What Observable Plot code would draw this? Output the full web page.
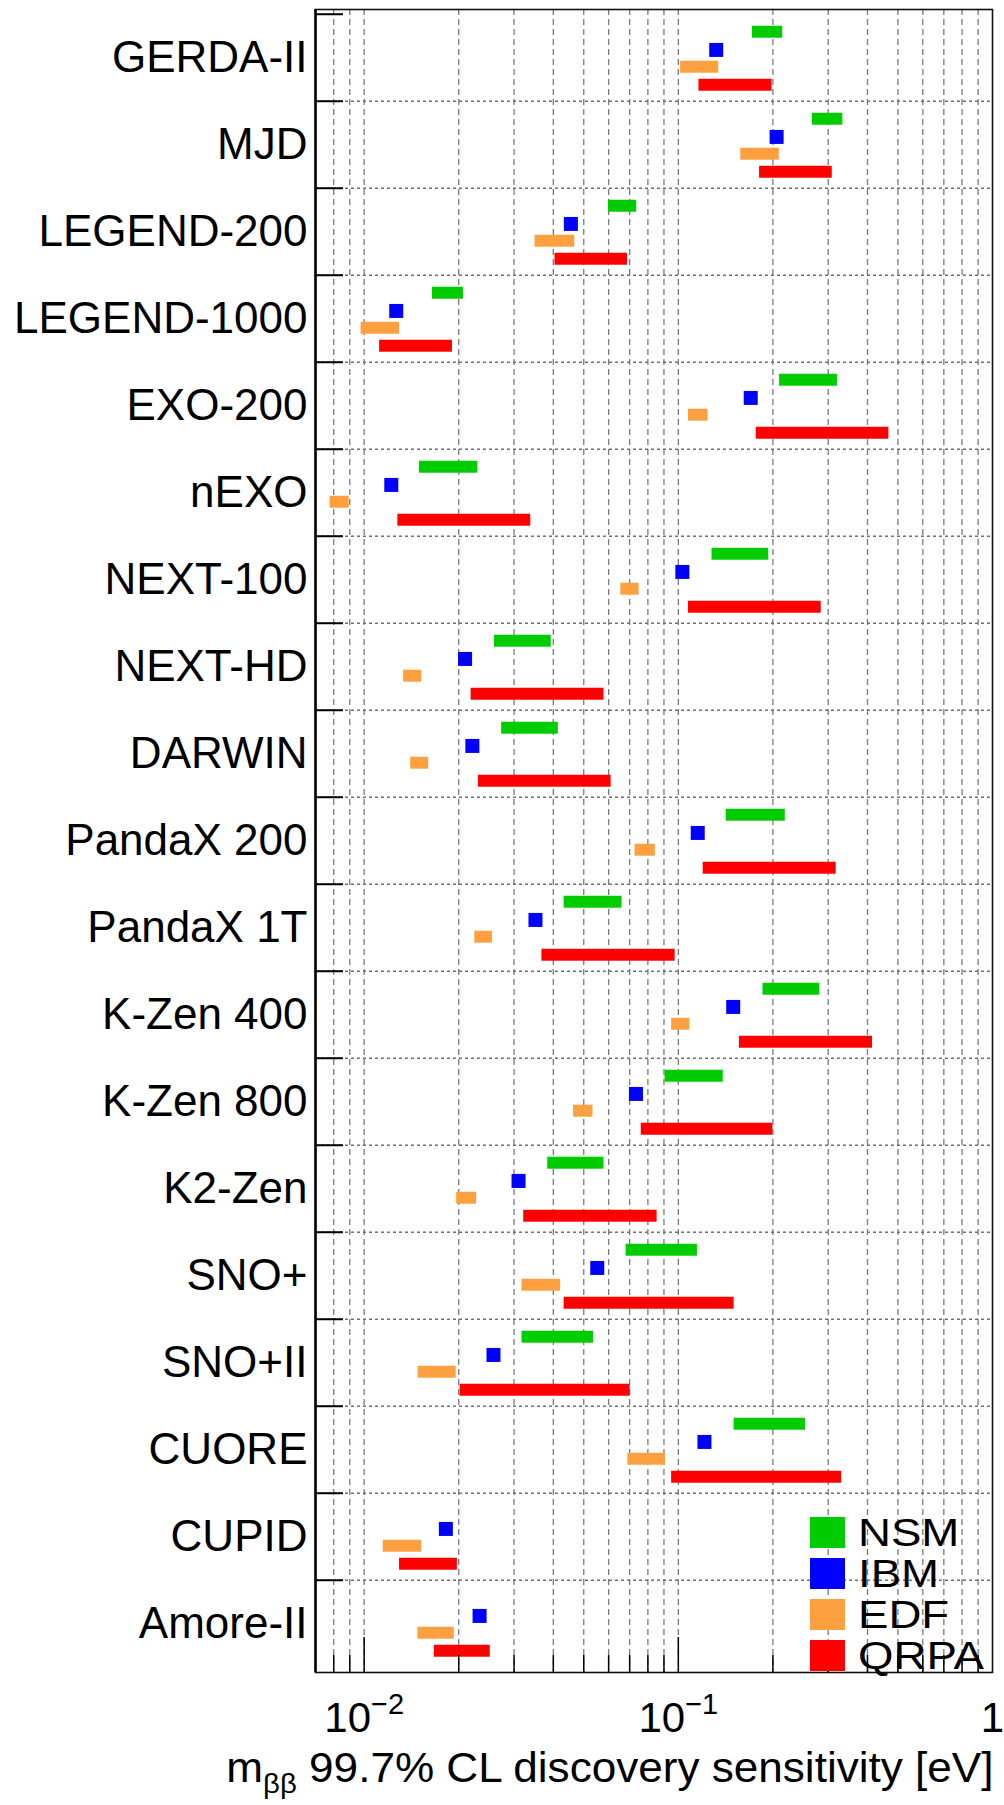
<!DOCTYPE html>
<html><head><meta charset="utf-8">
<script src="https://cdn.jsdelivr.net/npm/d3@7"></script>
<script src="https://cdn.jsdelivr.net/npm/@observablehq/plot@0.6"></script>
<style>
body{margin:0;background:#fff;}
#wrap{position:relative;width:1004px;height:1805px;overflow:hidden;}
.legend{position:absolute;left:810px;top:1512px;font-family:"Liberation Sans",Arial,sans-serif;font-size:38px;line-height:38px;}
.legend .row{display:flex;align-items:center;height:41px;}
.legend .sw{width:35px;height:31px;margin-right:13px;flex:none;}
.legend .lb{display:inline-block;transform:scaleX(1.2);transform-origin:0 50%;}
</style></head><body><div id="wrap"></div>
<script>
const experiments = ["GERDA-II","MJD","LEGEND-200","LEGEND-1000","EXO-200","nEXO","NEXT-100","NEXT-HD","DARWIN","PandaX 200","PandaX 1T","K-Zen 400","K-Zen 800","K2-Zen","SNO+","SNO+II","CUORE","CUPID","Amore-II"];
const nsmLow  = [0.172,0.267,0.0599,0.0165,0.210,0.0150,0.128,0.0260,0.0274,0.142,0.0433,0.186,0.0907,0.0384,0.0682,0.0318,0.1505,null,null];
const nsmHigh = [0.215,0.334,0.0737,0.0207,0.321,0.0230,0.194,0.0394,0.0415,0.219,0.0662,0.282,0.139,0.058,0.115,0.0537,0.254,null,null];
const ibm     = [0.132,0.2055,0.0455,0.01265,0.170,0.0122,0.103,0.02095,0.0221,0.1153,0.0351,0.1495,0.0733,0.0310,0.0552,0.0258,0.1211,0.0182,0.0233];
const edfLow  = [0.1017,0.158,0.035,0.00978,0.1077,0.00779,0.0656,0.01335,0.01406,0.0728,0.0225,0.0952,0.0464,0.0197,0.0318,0.01485,0.0691,0.0115,0.01483];
const edfHigh = [0.1345,0.2096,0.0468,0.01296,0.1243,0.00896,0.0750,0.01525,0.01605,0.0845,0.0256,0.1088,0.0535,0.0228,0.0422,0.01963,0.0910,0.01525,0.01936];
const qrpaLow = [0.1163,0.1814,0.0405,0.0112,0.177,0.0128,0.1077,0.0219,0.0231,0.120,0.0368,0.1565,0.0762,0.0322,0.0433,0.0202,0.0952,0.01296,0.01672];
const qrpaHigh= [0.1988,0.309,0.0689,0.0191,0.468,0.0339,0.285,0.058,0.0611,0.318,0.0977,0.415,0.200,0.0856,0.1505,0.0702,0.331,0.0198,0.0252];
const models = ["NSM","IBM","EDF","QRPA"];
const colors = ["#00cc00","#0000ff","#ffa040","#ff0000"];
const xDomain = [0.007, 1];
const gridTicks = [0.008,0.009,0.01,0.02,0.03,0.04,0.05,0.06,0.07,0.08,0.09,0.1,0.2,0.3,0.4,0.5,0.6,0.7,0.8,0.9];
const minorTicks = [0.008,0.009,0.02,0.03,0.04,0.05,0.06,0.07,0.08,0.09,0.2,0.3,0.4,0.5,0.6,0.7,0.8,0.9];
const majorTicks = [0.01,0.1];
const labelTicks = [0.01,0.1,1];
const xTitle = "m_ββ 99.7% CL discovery sensitivity [eV]";

const rng = (lo, hi) => experiments.map((e,i)=>({experiment:e, low:lo[i], high:hi[i]})).filter(d=>d.low!=null);
const nsm = rng(nsmLow, nsmHigh), edf = rng(edfLow, edfHigh), qrpa = rng(qrpaLow, qrpaHigh);
const ibmPts = experiments.map((e,i)=>({experiment:e, value:ibm[i]}));

const W = 1004, H = 1805, mT = 9, mB = 133, mL = 315, mR = 12;
const bw = (H - mT - mB) / experiments.length;
const barH = 12.5;
const centers = {NSM:18, IBM:35.7, EDF:53, QRPA:71};
const bar = (data, color, c) => Plot.barX(data, {y:"experiment", x1:"low", x2:"high", fill:color,
  insetTop: c - barH/2, insetBottom: bw - c - barH/2});
const font = "'Liberation Sans', Arial, Helvetica, sans-serif";

const svg = Plot.plot({
  width: W, height: H, marginTop: mT, marginBottom: mB, marginLeft: mL, marginRight: mR,
  style: {fontFamily: font, background: "white", color: "black"},
  x: {type: "log", domain: xDomain},
  y: {type: "band", domain: experiments, padding: 0},
  marks: [
    Plot.ruleX(gridTicks, {stroke:"#7a7a7a", strokeWidth:1.3, strokeDasharray:"6,4"}),
    Plot.ruleY(experiments.slice(1), {y: d=>d, dy: -bw/2, stroke:"#707070", strokeWidth:1.4, strokeDasharray:"3,3"}),
    bar(nsm, colors[0], centers.NSM),
    bar(edf, colors[2], centers.EDF),
    bar(qrpa, colors[3], centers.QRPA),
    Plot.dot(ibmPts, {x:"value", y:"experiment", symbol:"square", r:7.9, fill:colors[1], dy: centers.IBM - bw/2}),
    Plot.frame({stroke:"#111", strokeWidth:1.6}),
    Plot.ruleX([xDomain[0]], {stroke:"black", strokeWidth:2.5}),
    Plot.axisY({anchor:"left", tickSize:0, tickPadding:8, fontSize:44, label:null}),
    Plot.axisY({anchor:"left", tickSize:-28, dy:-bw/2, strokeWidth:2, tickFormat:()=>"", label:null}),
    Plot.axisX({anchor:"bottom", ticks:minorTicks, tickSize:-17, strokeWidth:1.5, tickFormat:()=>"", label:null}),
    Plot.axisX({anchor:"bottom", ticks:majorTicks, tickSize:-35, strokeWidth:1.5, tickFormat:()=>"", label:null}),
    Plot.axisX({anchor:"bottom", ticks:labelTicks, tickSize:0, tickPadding:30, fontSize:42, label:null,
      tickFormat: d => d === 1 ? "1" : "10^" + Math.round(Math.log10(d))}),
    Plot.text([xTitle], {frameAnchor:"bottom-right", dx:1, dy:109, textAnchor:"end", fontSize:42, fill:"black"})
  ]
});

// typographic touches: superscripts and subscript
d3.select(svg).selectAll("text").each(function(){
  const t = this.textContent;
  const sel = d3.select(this);
  if (t.startsWith("10^")) {
    const e = t.slice(3).replace("-", "\u2212");
    sel.text("");
    sel.append("tspan").text("10");
    sel.append("tspan").attr("dy", -18).attr("font-size", 29).text(e);
  } else if (t.startsWith("m_")) {
    sel.text("");
    sel.append("tspan").text("m");
    sel.append("tspan").attr("dy", 11).attr("font-size", 28).text("ββ");
    sel.append("tspan").attr("dy", -11).text(t.slice(4));
    const tr = this.getAttribute("transform") || "";
    this.setAttribute("transform", tr + " scale(1.05,1)");
  }
});

const wrap = document.getElementById("wrap");
wrap.appendChild(svg);
const lg = document.createElement("div");
lg.className = "legend";
models.forEach((m,i)=>{
  const r = document.createElement("div"); r.className = "row";
  const s = document.createElement("span"); s.className = "sw"; s.style.background = colors[i];
  const l = document.createElement("span"); l.className = "lb"; l.textContent = m;
  r.appendChild(s); r.appendChild(l); lg.appendChild(r);
});
wrap.appendChild(lg);
</script></body></html>
